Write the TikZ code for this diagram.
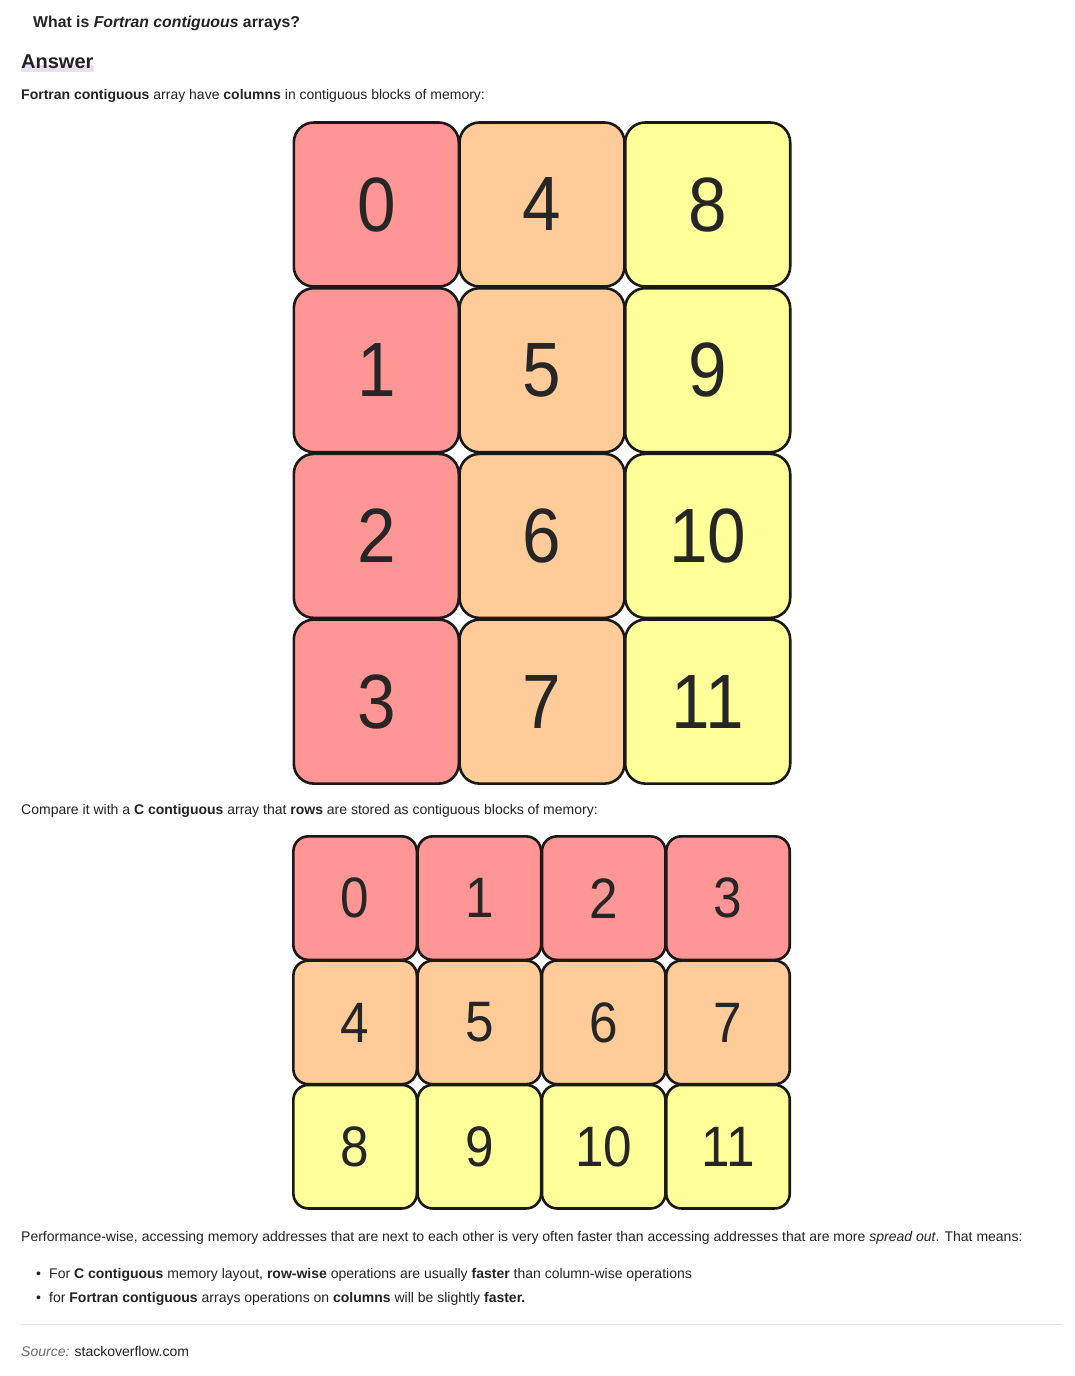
\documentclass[tikz,border=0pt]{standalone}
\usepackage{fontspec}
\setmainfont{Liberation Sans}
\newfontfamily\cellfont[FakeStretch=0.9]{Liberation Sans}
\usepackage{tikz}
\usetikzlibrary{backgrounds}

\definecolor{cellred}{HTML}{FF9696}
\definecolor{cellorange}{HTML}{FFCC99}
\definecolor{cellyellow}{HTML}{FFFF99}
\definecolor{ink}{HTML}{222222}
\definecolor{answerbar}{HTML}{EADFEE}
\definecolor{rulegray}{HTML}{E2E2E2}
\definecolor{srcgray}{HTML}{6A6A6A}

\newcommand{\bodysize}{\fontsize{14}{17}\selectfont}

\begin{document}
\begin{tikzpicture}[x=1pt, y=-1pt,
  txt/.style = {anchor=base west, inner sep=0pt, text=ink, font=\bodysize},
  cell/.style = {draw=black!90, line width=2.6pt, rounded corners=20pt, text=black!85},
  bigcell/.style = {cell, minimum width=165pt, minimum height=164pt, font=\cellfont\fontsize{77}{77}\selectfont},
  smallcell/.style = {cell, rounded corners=15pt, minimum width=123.5pt, minimum height=123.5pt, font=\cellfont\fontsize{57}{57}\selectfont}]
\useasboundingbox (0,0) rectangle (1074,1376);

% question and heading
\node[txt, font=\fontsize{15.8}{18}\selectfont\bfseries] (title) at (33,27) {What is \textit{Fortran contiguous} arrays?};
\node[txt, font=\fontsize{20}{24}\selectfont\bfseries] (ans) at (21,68) {Answer};
\begin{pgfonlayer}{background}
\fill[white] (0,0) rectangle (1074,1376);
\fill[answerbar] ([yshift=-4pt]ans.base west) rectangle ([yshift=3pt]ans.base east);
\end{pgfonlayer}
\node[txt] (intro) at (21,99) {\textbf{Fortran contiguous} array have \textbf{columns} in contiguous blocks of memory:};

% Fortran order, 4 x 3
\begin{scope}[node distance=165.7pt]
\node[bigcell, fill=cellred] (f0) at (376.3,204.5) {0};
\node[bigcell, fill=cellred] (f1) [below of=f0] {1};
\node[bigcell, fill=cellred] (f2) [below of=f1] {2};
\node[bigcell, fill=cellred] (f3) [below of=f2] {3};
\node[bigcell, fill=cellorange] (f4) [right of=f0] {4};
\node[bigcell, fill=cellorange] (f5) [below of=f4] {5};
\node[bigcell, fill=cellorange] (f6) [below of=f5] {6};
\node[bigcell, fill=cellorange] (f7) [below of=f6] {7};
\node[bigcell, fill=cellyellow] (f8) [right of=f4] {8};
\node[bigcell, fill=cellyellow] (f9) [below of=f8] {9};
\node[bigcell, fill=cellyellow] (f10) [below of=f9] {10};
\node[bigcell, fill=cellyellow] (f11) [below of=f10] {11};
\end{scope}

\node[txt] (compare) at (21,814) {Compare it with a \textbf{C contiguous} array that \textbf{rows} are stored as contiguous blocks of memory:};

% C order, 3 x 4
\begin{scope}[node distance=124.3pt]
\node[smallcell, fill=cellred] (c0) at (355.1,898.1) {0};
\node[smallcell, fill=cellred] (c1) [right of=c0] {1};
\node[smallcell, fill=cellred] (c2) [right of=c1] {2};
\node[smallcell, fill=cellred] (c3) [right of=c2] {3};
\node[smallcell, fill=cellorange] (c4) [below of=c0] {4};
\node[smallcell, fill=cellorange] (c5) [right of=c4] {5};
\node[smallcell, fill=cellorange] (c6) [right of=c5] {6};
\node[smallcell, fill=cellorange] (c7) [right of=c6] {7};
\node[smallcell, fill=cellyellow] (c8) [below of=c4] {8};
\node[smallcell, fill=cellyellow] (c9) [right of=c8] {9};
\node[smallcell, fill=cellyellow] (c10) [right of=c9] {10};
\node[smallcell, fill=cellyellow] (c11) [right of=c10] {11};
\end{scope}

% closing remarks
\node[txt] (perf) at (21,1241) {Performance-wise, accessing memory addresses that are next to each other is very often faster than accessing addresses that are more \textit{spread out}. That means:};
\node[txt] (dot1) at (36,1278) {\textbullet};
\node[txt] (item1) at (49,1278) {For \textbf{C contiguous} memory layout, \textbf{row-wise} operations are usually \textbf{faster} than column-wise operations};
\node[txt] (dot2) at (36,1302) {\textbullet};
\node[txt] (item2) at (49,1302) {for \textbf{Fortran contiguous} arrays operations on \textbf{columns} will be slightly \textbf{faster.}};
\coordinate (ruleL) at (21,1324);
\coordinate (ruleR) at (1062,1324);
\draw[rulegray, line width=1pt] (ruleL) -- (ruleR);
\node[txt] (src) at (21,1356) {\textcolor{srcgray}{\textit{Source:}} stackoverflow.com};
\end{tikzpicture}
\end{document}
